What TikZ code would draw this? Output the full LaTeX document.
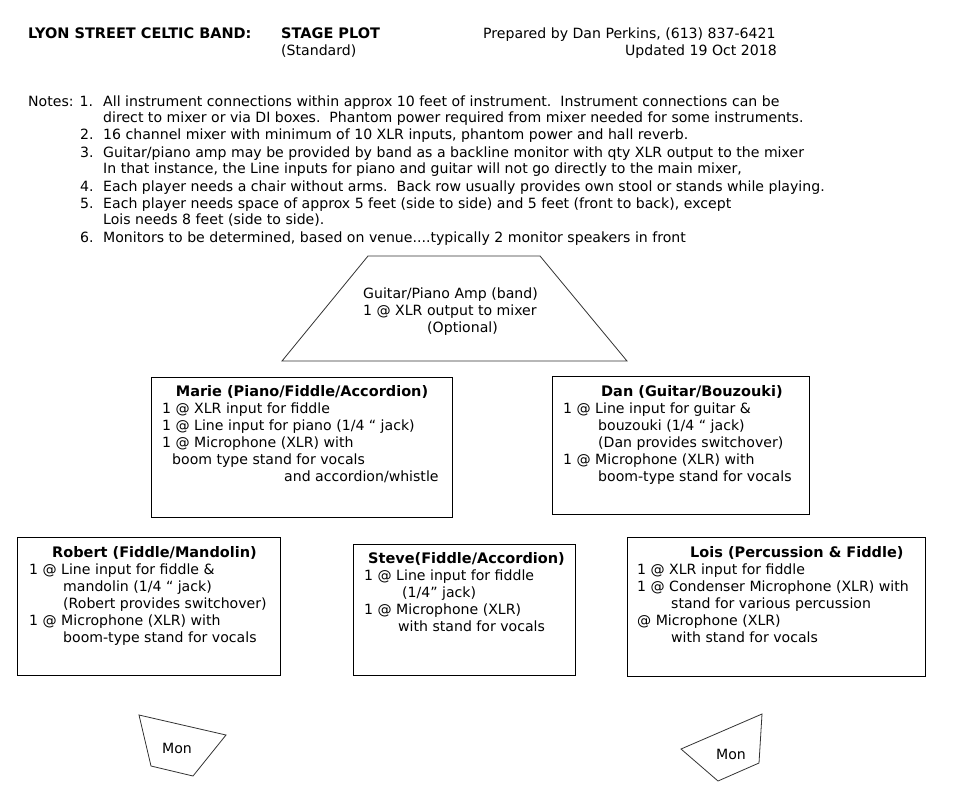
\documentclass[tikz,border=0pt]{standalone}
\usepackage{fontspec}
\setmainfont{DejaVu Sans}
\begin{document}
\begin{tikzpicture}[x=1pt,y=-1pt,
  txt/.style={anchor=base west,inner sep=0pt,font=\fontsize{14.1}{17}\selectfont},
  btxt/.style={anchor=base west,inner sep=0pt,font=\fontsize{14.5}{17}\selectfont\bfseries},
  rtxt/.style={anchor=base east,inner sep=0pt,font=\fontsize{14.1}{17}\selectfont},
  ctxt/.style={anchor=base,inner sep=0pt,font=\fontsize{14.1}{17}\selectfont},
  cbtxt/.style={anchor=base,inner sep=0pt,font=\fontsize{14.5}{17}\selectfont\bfseries},
  box/.style={draw=black,line width=1pt,inner sep=0pt},
  shp/.style={draw=black!80,line width=0.8pt}]
\useasboundingbox[fill=white] (0,0) rectangle (957,795);
% header
\node[btxt] (band) at (28,38) {LYON STREET CELTIC BAND:};
\node[btxt] (stage) at (281,38) {STAGE PLOT};
\node[txt] (std) at (281,55) {(Standard)};
\node[txt] (prep) at (483,38) {Prepared by Dan Perkins, (613) 837-6421};
\node[rtxt] (upd) at (777,55) {Updated 19 Oct 2018};
% notes
\node[txt] (notes) at (28,106) {Notes: 1.};
\node[txt] (n1a) at (103,106) {All instrument connections within approx 10 feet of instrument.\ \ Instrument connections can be};
\node[txt] (n1b) at (103,122) {direct to mixer or via DI boxes.\ \ Phantom power required from mixer needed for some instruments.};
\node[txt] (k2) at (80,139) {2.};
\node[txt] (n2) at (103,139) {16 channel mixer with minimum of 10 XLR inputs, phantom power and hall reverb.};
\node[txt] (k3) at (80,157) {3.};
\node[txt] (n3a) at (103,157) {Guitar/piano amp may be provided by band as a backline monitor with qty XLR output to the mixer};
\node[txt] (n3b) at (103,173) {In that instance, the Line inputs for piano and guitar will not go directly to the main mixer,};
\node[txt] (k4) at (80,191) {4.};
\node[txt] (n4) at (103,191) {Each player needs a chair without arms.\ \ Back row usually provides own stool or stands while playing.};
\node[txt] (k5) at (80,208) {5.};
\node[txt] (n5a) at (103,208) {Each player needs space of approx 5 feet (side to side) and 5 feet (front to back), except};
\node[txt] (n5b) at (103,224) {Lois needs 8 feet (side to side).};
\node[txt] (k6) at (80,242) {6.};
\node[txt] (n6) at (103,242) {Monitors to be determined, based on venue....typically 2 monitor speakers in front};
% amp trapezoid
\draw[shp] (368,256) -- (540,256) -- (627,361) -- (282,361) -- cycle;
\node[txt] (amp1) at (363,298) {Guitar/Piano Amp (band)};
\node[txt] (amp2) at (363,315) {1 @ XLR output to mixer};
\node[txt] (amp3) at (427,332) {(Optional)};
% Marie
\node[box,minimum width=301pt,minimum height=140pt] (marie) at (301.5,447) {};
\node[cbtxt] (mt) at (302,396) {Marie (Piano/Fiddle/Accordion)};
\node[txt] (m1) at (162,413) {1 @ XLR input for fiddle};
\node[txt] (m2) at (162,430) {1 @ Line input for piano (1/4 “ jack)};
\node[txt] (m3) at (162,447) {1 @ Microphone (XLR) with};
\node[txt] (m4) at (172,464) {boom type stand for vocals};
\node[txt] (m5) at (284,481) {and accordion/whistle};
% Dan
\node[box,minimum width=257pt,minimum height=138pt] (dan) at (680.5,445.5) {};
\node[btxt] (dt) at (601,396) {Dan (Guitar/Bouzouki)};
\node[txt] (d1) at (563,413) {1 @ Line input for guitar \&};
\node[txt] (d2) at (598,430) {bouzouki (1/4 “ jack)};
\node[txt] (d3) at (598,447) {(Dan provides switchover)};
\node[txt] (d4) at (563,464) {1 @ Microphone (XLR) with};
\node[txt] (d5) at (598,481) {boom-type stand for vocals};
% Robert
\node[box,minimum width=263pt,minimum height=138pt] (robert) at (148.5,606) {};
\node[btxt] (rt) at (52,557) {Robert (Fiddle/Mandolin)};
\node[txt] (r1) at (29,574) {1 @ Line input for fiddle \&};
\node[txt] (r2) at (63,591) {mandolin (1/4 “ jack)};
\node[txt] (r3) at (63,608) {(Robert provides switchover)};
\node[txt] (r4) at (29,625) {1 @ Microphone (XLR) with};
\node[txt] (r5) at (63,642) {boom-type stand for vocals};
% Steve
\node[box,minimum width=222pt,minimum height=131pt] (steve) at (464,609.5) {};
\node[btxt] (st) at (368,563) {Steve(Fiddle/Accordion)};
\node[txt] (s1) at (364,580) {1 @ Line input for fiddle};
\node[txt] (s2) at (402,597) {(1/4” jack)};
\node[txt] (s3) at (364,614) {1 @ Microphone (XLR)};
\node[txt] (s4) at (398,631) {with stand for vocals};
% Lois
\node[box,minimum width=298pt,minimum height=139pt] (lois) at (776,606.5) {};
\node[btxt] (lt) at (690,557) {Lois (Percussion \& Fiddle)};
\node[txt] (l1) at (637,574) {1 @ XLR input for fiddle};
\node[txt] (l2) at (637,591) {1 @ Condenser Microphone (XLR) with};
\node[txt] (l3) at (671,608) {stand for various percussion};
\node[txt] (l4) at (637,625) {@ Microphone (XLR)};
\node[txt] (l5) at (671,642) {with stand for vocals};
% monitors
\draw[shp] (139,715) -- (226,735) -- (193,776) -- (151,766) -- cycle;
\node[ctxt] (monl) at (177,753) {Mon};
\draw[shp] (762,714) -- (759,763) -- (718,781) -- (681,749) -- cycle;
\node[ctxt] (monr) at (731,759) {Mon};
\end{tikzpicture}
\end{document}
